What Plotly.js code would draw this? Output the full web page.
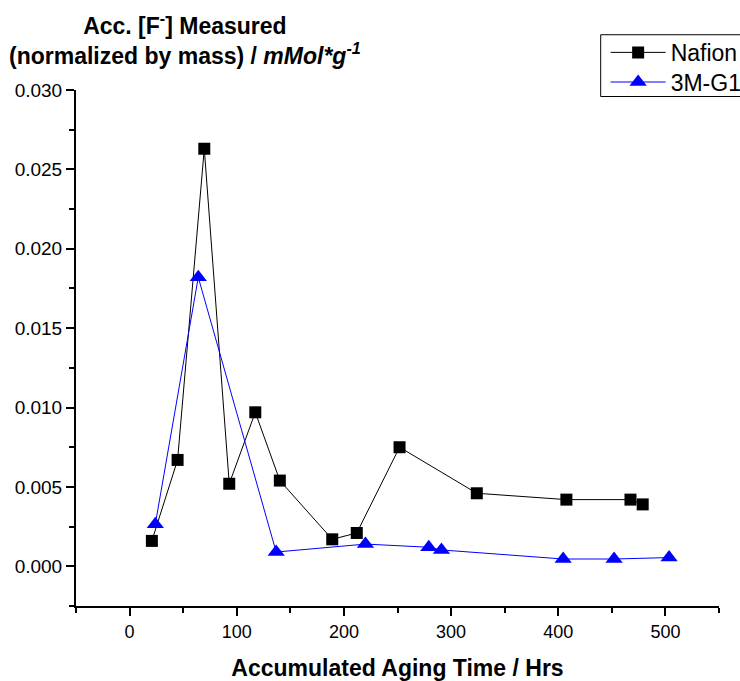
<!DOCTYPE html>
<html>
<head>
<meta charset="utf-8">
<script src="https://cdn.plot.ly/plotly-3.0.1.min.js"></script>
<style>
html,body{margin:0;padding:0;background:#fff;}
#chart{width:740px;height:681px;}
</style>
</head>
<body>
<div id="chart"></div>
<script>
// Nafion series
const nafionHours = [20.8, 44.8, 69.7, 93, 117.3, 140.2, 189.1, 212, 251.9, 324, 407.6, 467.4, 478.8];
const nafionF = [0.0016, 0.0067, 0.0263, 0.0052, 0.0097, 0.0054, 0.0017, 0.0021, 0.0075, 0.0046, 0.0042, 0.0042, 0.0039];
// 3M-G1 series
const g1Hours = [24, 64.1, 136.8, 220.1, 279.2, 291, 404.6, 452.1, 503.4];
const g1F = [0.00265, 0.0182, 0.0009, 0.0014, 0.0012, 0.00103, 0.00046, 0.00046, 0.00055];

const seriesNames = ["Nafion", "3M-G1"];
const xTitle = "Accumulated Aging Time / Hrs";
const yTitle = "<b>Acc. [F<sup>-</sup>] Measured<br>(normalized by mass) / <i>mMol*g<sup>-1</sup></i></b>";

const font = "Liberation Sans, Arial, sans-serif";

const traces = [
  {
    x: nafionHours, y: nafionF, name: seriesNames[0], type: "scatter", mode: "lines+markers",
    legend: "legend",
    line: {color: "#000000", width: 1},
    marker: {symbol: "square", size: 12, color: "#000000"}
  },
  {
    x: g1Hours, y: g1F, name: seriesNames[1], type: "scatter", mode: "lines+markers",
    legend: "legend2",
    line: {color: "#0000ff", width: 1},
    marker: {symbol: "triangle-up", size: 15, color: "#0000ff"}
  }
];

const legendCommon = {
  x: 0.8237, xanchor: "left", yanchor: "middle",
  bgcolor: "rgba(0,0,0,0)", borderwidth: 0,
  font: {family: font, size: 23, color: "#000000"},
  itemwidth: 55
};

const layout = {
  width: 740, height: 681,
  paper_bgcolor: "#ffffff", plot_bgcolor: "#ffffff",
  font: {family: font, color: "#000000", size: 18},
  margin: {l: 76, r: 21, t: 90, b: 75, autoexpand: false},
  showlegend: true,
  legend: Object.assign({}, legendCommon, {y: 1.0728}),
  legend2: Object.assign({}, legendCommon, {y: 1.0154}),
  shapes: [
    {
      type: "rect", xref: "paper", yref: "paper",
      x0: 0.816, x1: 1.3, y0: 0.9874, y1: 1.1071,
      line: {color: "#000000", width: 1}, fillcolor: "#ffffff", layer: "above"
    }
  ],
  xaxis: {
    range: [-50, 550], showgrid: false, zeroline: false,
    showline: true, linecolor: "#000000", linewidth: 2,
    ticks: "outside", ticklen: 8, tickwidth: 2, tickcolor: "#000000",
    dtick: 100, tick0: 0,
    minor: {dtick: 50, tick0: 0, ticks: "outside", ticklen: 5, tickwidth: 2, tickcolor: "#000000", showgrid: false},
    tickfont: {family: font, size: 18},
    title: {text: "<b>" + xTitle + "</b>", font: {family: font, size: 23}, standoff: 20},
    automargin: false
  },
  yaxis: {
    range: [-0.0025, 0.030], showgrid: false, zeroline: false,
    showline: true, linecolor: "#000000", linewidth: 2,
    ticks: "outside", ticklen: 8, tickwidth: 2, tickcolor: "#000000",
    dtick: 0.005, tick0: 0, tickformat: ".3f",
    minor: {dtick: 0.0025, tick0: 0, ticks: "outside", ticklen: 5, tickwidth: 2, tickcolor: "#000000", showgrid: false},
    tickfont: {family: font, size: 19},
    automargin: false
  },
  annotations: [
    {
      text: yTitle, xref: "paper", yref: "paper",
      x: 0.1694, y: 1.161, xanchor: "center", yanchor: "top",
      showarrow: false, align: "center",
      font: {family: font, size: 23, color: "#000000"}
    }
  ]
};

Plotly.newPlot("chart", traces, layout, {displayModeBar: false, staticPlot: true});
</script>
</body>
</html>
